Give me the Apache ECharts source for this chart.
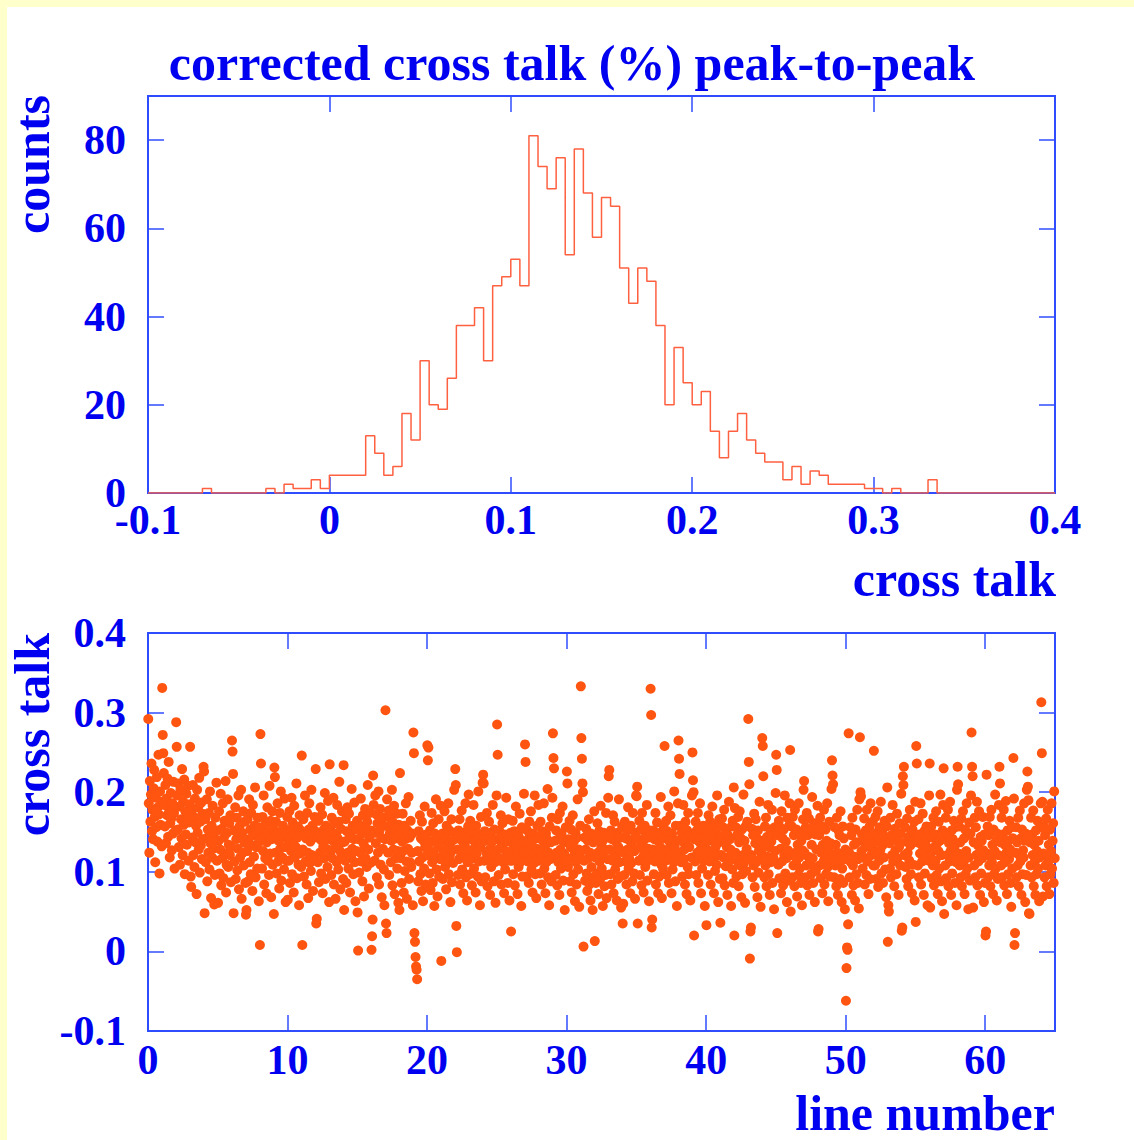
<!DOCTYPE html>
<html>
<head>
<meta charset="utf-8">
<title>corrected cross talk (%) peak-to-peak</title>
<script src="https://cdn.jsdelivr.net/npm/echarts@6/dist/echarts.min.js"></script>
<style>
    html, body { margin: 0; padding: 0; background: #ffffcc; }
    #main { width: 1134px; height: 1140px; }
</style>
</head>
<body>
<div id="main"></div>
<script>
// histogram: 100 bins of 0.005 from -0.1 to 0.4
var binStart = -0.1;
var binWidth = 0.005;
var histCounts = [
    0, 0, 0, 0, 0, 0, 1, 0, 0, 0,
    0, 0, 0, 1, 0, 2, 1, 1, 3, 1,
    4, 4, 4, 4, 13, 9, 4, 6, 18, 12,
    30, 20, 19, 26, 38, 38, 42, 30, 47, 49,
    53, 47, 81, 74, 69, 76, 54, 78, 68, 58,
    67, 65, 51, 43, 51, 48, 38, 20, 33, 25,
    20, 23, 14, 8, 14, 18, 12, 9, 7, 7,
    3, 6, 2, 5, 4, 2, 2, 2, 2, 1,
    1, 0, 1, 0, 0, 0, 3, 0, 0, 0,
    0, 0, 0, 0, 0, 0, 0, 0, 0, 0
];

// cross talk per line (in units of 0.001), one row per line number 0..64
var xtalkByLine = [
    [292, 186, 124, 214, 163, 197, 236, 151, 178, 141, 205, 228, 169, 112, 193, 156, 219, 138, 181, 247, 172, 98, 201, 159, 188, 132],
    [331, 272, 249, 224, 184, 157, 209, 136, 192, 171, 217, 144, 238, 176, 118, 161, 199, 167, 127, 186, 148, 213, 174, 104, 182, 152],
    [288, 257, 196, 153, 211, 131, 182, 109, 203, 166, 142, 229, 121, 188, 159, 216, 97, 176, 147, 198, 134, 171, 208, 114, 162, 185],
    [257, 94, 81, 177, 143, 209, 121, 169, 106, 192, 137, 158, 72, 203, 149, 181, 128, 218, 99, 163, 133, 187, 116, 173, 141, 232],
    [226, 48, 166, 112, 142, 191, 88, 153, 124, 174, 103, 201, 136, 67, 158, 118, 183, 129, 147, 59, 96, 168, 139, 212, 114, 152],
    [61, 139, 176, 98, 128, 198, 83, 154, 117, 186, 92, 143, 164, 123, 214, 74, 109, 149, 191, 106, 134, 161, 121, 171, 87, 131],
    [265, 251, 223, 48, 152, 113, 181, 91, 141, 168, 102, 129, 196, 78, 157, 118, 144, 203, 66, 149, 124, 176, 108, 137, 163, 86],
    [46, 52, 126, 166, 88, 141, 191, 112, 153, 97, 174, 133, 76, 184, 146, 119, 158, 206, 93, 131, 149, 104, 168, 136, 63, 156],
    [8, 273, 236, 143, 104, 169, 126, 196, 84, 152, 117, 161, 73, 137, 181, 114, 148, 96, 208, 123, 164, 68, 141, 176, 109, 154],
    [47, 231, 219, 124, 163, 98, 148, 186, 113, 139, 79, 174, 129, 201, 89, 151, 118, 158, 143, 103, 192, 131, 62, 149, 114, 169],
    [65, 141, 114, 176, 86, 153, 126, 193, 97, 162, 136, 74, 183, 118, 147, 131, 211, 92, 143, 157, 109, 58, 171, 123, 152, 106],
    [246, 8, 128, 166, 94, 148, 196, 113, 142, 84, 174, 124, 67, 153, 186, 111, 138, 101, 203, 121, 158, 76, 144, 117, 169, 151],
    [229, 35, 41, 143, 112, 164, 87, 148, 124, 181, 98, 139, 172, 73, 131, 153, 117, 199, 91, 158, 129, 141, 106, 189, 149, 62],
    [235, 124, 152, 96, 168, 117, 139, 193, 84, 161, 131, 66, 148, 112, 184, 142, 103, 163, 213, 126, 78, 154, 119, 176, 137, 91],
    [234, 52, 138, 114, 166, 86, 151, 181, 124, 104, 173, 143, 74, 148, 118, 204, 129, 158, 97, 141, 187, 112, 63, 153, 126, 164],
    [49, 1, 141, 99, 158, 124, 192, 113, 148, 88, 171, 136, 69, 131, 179, 117, 153, 106, 163, 209, 128, 79, 143, 174, 111, 152],
    [2, 19, 40, 221, 184, 149, 114, 196, 136, 172, 93, 161, 124, 201, 84, 152, 179, 109, 143, 68, 158, 129, 168, 103, 58, 141],
    [303, 35, 23, 191, 157, 124, 177, 96, 148, 168, 112, 139, 203, 83, 162, 128, 183, 72, 153, 117, 142, 173, 104, 126, 61, 159],
    [52, 224, 117, 149, 86, 138, 173, 126, 74, 158, 101, 141, 186, 113, 66, 152, 129, 194, 91, 143, 112, 164, 106, 124, 148, 58],
    [275, 249, 23, 12, -7, -19, -23, -35, 126, 88, 151, 113, 171, 97, 142, 76, 163, 118, 63, 139, 104, 182, 131, 84, 147, 121],
    [259, 240, 256, 128, 98, 152, 77, 138, 174, 112, 86, 161, 124, 57, 148, 117, 191, 103, 141, 69, 131, 166, 94, 143, 116, 183],
    [-12, 119, 148, 91, 139, 124, 176, 106, 143, 78, 158, 113, 131, 186, 97, 152, 121, 62, 137, 166, 87, 127, 111, 149, 203, 141],
    [229, 209, 32, -1, 128, 96, 152, 116, 166, 84, 141, 124, 177, 103, 138, 73, 149, 118, 133, 186, 93, 143, 64, 112, 157, 197],
    [124, 97, 164, 116, 141, 83, 152, 128, 184, 104, 138, 119, 74, 158, 123, 148, 94, 201, 113, 143, 58, 131, 169, 88, 137, 212],
    [222, 211, 114, 151, 93, 139, 124, 174, 82, 143, 117, 163, 128, 71, 149, 106, 137, 121, 184, 126, 88, 153, 112, 61, 141, 196],
    [285, 247, 128, 96, 152, 117, 139, 171, 84, 133, 161, 112, 142, 73, 147, 103, 126, 193, 118, 138, 86, 166, 124, 64, 114, 149],
    [25, 141, 114, 164, 97, 131, 151, 83, 138, 182, 118, 126, 72, 149, 106, 143, 173, 112, 129, 57, 156, 94, 137, 121, 198, 124],
    [260, 238, 126, 94, 152, 113, 141, 86, 163, 133, 118, 176, 103, 138, 74, 148, 124, 111, 196, 97, 142, 67, 129, 158, 116, 184],
    [114, 142, 98, 163, 126, 84, 151, 117, 138, 186, 104, 131, 73, 148, 112, 141, 204, 93, 124, 58, 157, 116, 137, 88, 168, 193],
    [274, 243, 230, 117, 139, 96, 152, 124, 83, 166, 112, 141, 71, 174, 128, 104, 148, 119, 182, 89, 137, 123, 52, 114, 156, 109],
    [226, 211, 106, 141, 116, 164, 88, 131, 153, 74, 118, 171, 97, 138, 126, 63, 149, 112, 84, 143, 191, 103, 128, 56, 121, 158],
    [333, 268, 242, 211, 200, 6, 114, 143, 89, 128, 154, 98, 76, 139, 117, 166, 84, 124, 64, 148, 106, 121, 52, 137, 93, 176],
    [13, 118, 86, 142, 98, 161, 124, 72, 151, 113, 91, 183, 131, 104, 138, 57, 119, 149, 82, 128, 96, 174, 67, 143, 116, 193],
    [220, 228, 128, 97, 152, 84, 141, 114, 171, 73, 124, 163, 103, 138, 117, 64, 149, 91, 131, 191, 112, 94, 143, 55, 126, 157],
    [35, 60, 124, 96, 163, 113, 142, 84, 151, 128, 181, 104, 117, 139, 73, 158, 111, 133, 88, 174, 141, 98, 126, 66, 149, 196],
    [195, 207, 35, 141, 114, 164, 96, 131, 153, 83, 174, 118, 138, 74, 124, 158, 106, 148, 112, 184, 89, 143, 129, 63, 119, 152],
    [330, 297, 30, 40, 128, 152, 97, 141, 113, 174, 84, 124, 162, 117, 73, 138, 94, 149, 131, 194, 109, 67, 143, 104, 158, 122],
    [258, 142, 114, 164, 96, 151, 128, 182, 86, 138, 117, 171, 124, 73, 148, 103, 141, 112, 201, 131, 88, 158, 119, 57, 139, 186],
    [265, 242, 223, 124, 158, 112, 149, 94, 138, 184, 116, 128, 84, 163, 141, 72, 152, 106, 174, 97, 131, 143, 64, 148, 118, 196],
    [250, 215, 200, 20, 141, 113, 163, 96, 152, 124, 174, 86, 138, 117, 186, 128, 73, 148, 104, 143, 158, 114, 131, 57, 151, 121],
    [33, 128, 152, 96, 171, 139, 113, 163, 84, 148, 124, 182, 117, 142, 73, 158, 101, 131, 149, 109, 196, 136, 62, 121, 166, 91],
    [36, 144, 121, 167, 92, 156, 118, 178, 83, 136, 107, 153, 131, 71, 146, 112, 188, 119, 141, 128, 57, 157, 103, 164, 86, 206],
    [20, 180, 124, 156, 94, 146, 113, 169, 82, 137, 176, 108, 142, 68, 153, 97, 121, 197, 111, 139, 61, 157, 101, 129, 163, 116],
    [292, 238, 210, -9, 25, 30, 121, 154, 93, 146, 108, 173, 81, 136, 166, 112, 142, 68, 152, 99, 127, 188, 116, 56, 139, 124],
    [268, 258, 220, 134, 93, 157, 108, 168, 82, 144, 119, 184, 97, 131, 71, 153, 112, 138, 178, 86, 147, 117, 53, 156, 126, 199],
    [247, 228, 23, 146, 109, 164, 92, 156, 129, 73, 176, 113, 142, 83, 153, 121, 196, 98, 138, 117, 62, 168, 127, 89, 158, 186],
    [253, 50, 121, 157, 93, 169, 108, 146, 82, 178, 124, 111, 153, 69, 134, 96, 186, 118, 104, 148, 86, 139, 58, 127, 166, 203],
    [214, 124, 93, 156, 108, 174, 83, 146, 119, 167, 71, 112, 153, 97, 134, 194, 117, 86, 106, 161, 62, 147, 101, 128, 154, 183],
    [25, 28, 146, 108, 168, 92, 124, 157, 73, 134, 113, 178, 84, 119, 153, 97, 139, 186, 106, 63, 127, 163, 94, 136, 116, 204],
    [240, 221, 210, 121, 93, 156, 108, 134, 82, 168, 124, 71, 152, 113, 146, 91, 176, 118, 62, 104, 157, 86, 142, 116, 53, 128],
    [-62, -21, 5, 2, 34, 274, 124, 93, 156, 112, 146, 71, 168, 108, 83, 134, 119, 64, 153, 97, 137, 178, 86, 116, 54, 191],
    [269, 200, 195, 126, 147, 104, 139, 118, 167, 84, 131, 152, 96, 178, 113, 143, 72, 136, 157, 91, 186, 121, 146, 129, 163, 108],
    [252, 137, 108, 169, 91, 149, 121, 176, 81, 142, 114, 156, 127, 188, 98, 151, 133, 86, 146, 118, 164, 103, 139, 68, 157, 206],
    [12, 58, 50, 136, 104, 168, 93, 146, 121, 184, 113, 141, 82, 154, 127, 144, 97, 173, 117, 138, 71, 131, 161, 108, 148, 198],
    [26, 30, 220, 209, 232, 121, 156, 106, 138, 91, 167, 124, 82, 144, 114, 178, 133, 97, 149, 73, 153, 109, 139, 163, 64, 188],
    [37, 258, 236, 137, 108, 166, 93, 147, 123, 186, 84, 134, 113, 173, 126, 71, 151, 98, 139, 118, 157, 131, 58, 149, 114, 196],
    [236, 55, 123, 157, 92, 143, 108, 168, 83, 131, 147, 114, 176, 96, 136, 72, 126, 163, 104, 139, 197, 88, 121, 63, 152, 184],
    [230, 47, 144, 108, 168, 92, 148, 121, 178, 82, 136, 113, 188, 126, 71, 152, 98, 141, 117, 164, 131, 86, 156, 112, 58, 203],
    [232, 210, 123, 157, 108, 137, 93, 167, 82, 119, 176, 112, 142, 72, 153, 97, 126, 186, 104, 146, 53, 118, 162, 89, 148, 196],
    [275, 232, 220, 55, 137, 108, 168, 93, 156, 121, 188, 83, 133, 113, 176, 124, 71, 144, 98, 139, 117, 169, 127, 62, 147, 86],
    [20, 25, 222, 123, 157, 93, 146, 108, 169, 82, 119, 178, 112, 134, 72, 153, 97, 126, 197, 104, 139, 64, 148, 91, 121, 184],
    [232, 211, 137, 108, 168, 93, 147, 119, 178, 83, 134, 112, 189, 124, 72, 152, 97, 139, 116, 164, 128, 86, 56, 156, 104, 142],
    [243, 192, 8, 23, 124, 156, 93, 137, 108, 168, 82, 121, 177, 113, 142, 71, 153, 97, 127, 118, 186, 139, 62, 148, 96, 203],
    [226, 207, 190, 48, 47, 137, 108, 168, 93, 147, 121, 177, 82, 134, 113, 71, 152, 97, 126, 164, 104, 139, 63, 118, 156, 186],
    [313, 249, 188, 69, 123, 157, 93, 146, 108, 167, 82, 121, 178, 113, 134, 72, 153, 97, 126, 186, 104, 139, 161, 86, 201, 117]
];

var histXRange = [-0.1, 0.4];
var histYRange = [0, 90];
var lineXRange = [0, 65];
var lineYRange = [-0.1, 0.4];

(function (window, echarts) {
    var blue = '#0000f0',
        frame = '#2f4dff',
        fontFamily = 'Liberation Serif';

    // histogram outline points, one per bin left edge plus the closing edge
    function buildHistData() {
        var pts = histCounts.map(function (c, i) {
            return [binStart + i * binWidth, c];
        });
        pts.push([binStart + histCounts.length * binWidth, 0]);
        return pts;
    }

    // scatter points, channels spread evenly inside each line
    function buildScatterData() {
        var pts = [];
        xtalkByLine.forEach(function (row, line) {
            row.forEach(function (v, k) {
                pts.push([line + (k + 0.5) / row.length, v / 1000]);
            });
        });
        return pts;
    }

    function fmtTenth(v) {
        var r = Math.round(v * 10) / 10;
        return r === 0 ? '0' : String(r);
    }

    function axis(gridIndex, position, range, interval, withLabels, formatter, margin) {
        return {
            type: 'value',
            gridIndex: gridIndex,
            position: position,
            min: range[0],
            max: range[1],
            interval: interval,
            axisLine: { show: true, onZero: false, lineStyle: { color: frame, width: 2 } },
            axisTick: { show: true, inside: true, length: 16, lineStyle: { color: frame, width: 1.5 } },
            splitLine: { show: false },
            axisLabel: {
                show: withLabels,
                margin: margin,
                showMinLabel: true,
                formatter: formatter,
                fontFamily: fontFamily,
                fontWeight: 'bold',
                fontSize: 42,
                lineHeight: 24,
                color: blue
            }
        };
    }

    function textEl(text, x, y, align, rotation) {
        return {
            type: 'text',
            x: x,
            y: y,
            rotation: rotation || 0,
            style: {
                text: text,
                fill: blue,
                fontFamily: fontFamily,
                fontWeight: 'bold',
                fontSize: 50,
                lineHeight: 40,
                textAlign: align,
                textVerticalAlign: 'middle',
                align: align,
                verticalAlign: 'middle'
            }
        };
    }

    var chart = echarts.init(document.getElementById('main'), null, { renderer: 'svg' });
    chart.setOption({
        animation: false,
        backgroundColor: '#ffffcc',
        grid: [
            { left: 148, top: 96, width: 907, height: 397, show: true, borderColor: frame, borderWidth: 2 },
            { left: 148, top: 633, width: 907, height: 398, show: true, borderColor: frame, borderWidth: 2 }
        ],
        xAxis: [
            axis(0, 'bottom', histXRange, 0.1, true, fmtTenth, 15),
            axis(0, 'top', histXRange, 0.1, false),
            axis(1, 'bottom', lineXRange, 10, true, function (v) {
                return v % 10 === 0 ? String(v) : '';
            }, 17),
            axis(1, 'top', lineXRange, 10, false)
        ],
        yAxis: [
            axis(0, 'left', histYRange, 20, true, function (v) {
                return v % 20 === 0 ? String(v) : '';
            }, 22),
            axis(0, 'right', histYRange, 20, false),
            axis(1, 'left', lineYRange, 0.1, true, fmtTenth, 22),
            axis(1, 'right', lineYRange, 0.1, false)
        ],
        graphic: {
            elements: [
                { type: 'rect', z: -100, silent: true, shape: { x: 7, y: 7, width: 1127, height: 1133 }, style: { fill: '#ffffff' } },
                textEl('corrected cross talk (%) peak-to-peak', 572, 63, 'center'),
                textEl('cross talk', 1056, 579, 'right'),
                textEl('line number', 1055, 1113, 'right'),
                textEl('counts', 32, 95, 'right', Math.PI / 2),
                textEl('cross talk', 32, 633, 'right', Math.PI / 2)
            ]
        },
        series: [
            {
                type: 'line',
                xAxisIndex: 0,
                yAxisIndex: 0,
                step: 'end',
                symbol: 'none',
                data: buildHistData(),
                lineStyle: { color: '#ff6040', width: 1.5 },
                z: 3
            },
            {
                type: 'scatter',
                xAxisIndex: 2,
                yAxisIndex: 2,
                symbol: 'circle',
                symbolSize: 10,
                data: buildScatterData(),
                itemStyle: { color: '#ff5510', opacity: 1 },
                z: 3
            }
        ]
    });
})(window, echarts);
</script>
</body>
</html>
